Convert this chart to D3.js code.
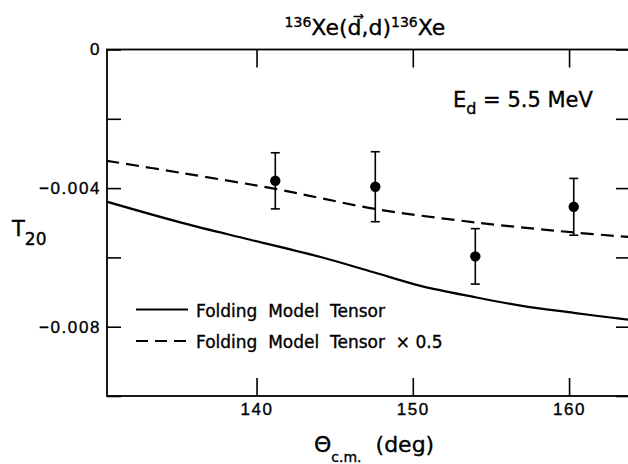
<!DOCTYPE html>
<html>
<head>
<meta charset="utf-8">
<script src="https://cdn.jsdelivr.net/npm/d3@7"></script>
<style>
  body { margin: 0; background: #fff; }
  svg { display: block; font-family: "DejaVu Sans", sans-serif; }
  svg text { fill: #000; stroke: #000; stroke-width: 0.35; }
  .axis path { display: none; }
  .axis line { stroke: #000; stroke-width: 1.6; }
  .axis text { font-size: 17px; letter-spacing: 1.6px; }
</style>
</head>
<body>
<div id="chart"></div>
<script>
// theta c.m. (deg) and T20 values
var solidTheta = [130.4, 135.3, 139.6, 144.1, 147.5, 150.5, 153.9, 156.9, 160.3, 163.8];
var solidT20   = [-0.00439, -0.00501, -0.00549, -0.00599, -0.00643, -0.00682, -0.00714, -0.00739, -0.0076, -0.0078];
var dashTheta  = [130.4, 135.3, 141.3, 144.1, 147.7, 154.0, 160.3, 163.8];
var dashT20    = [-0.00321, -0.00357, -0.00403, -0.00429, -0.00461, -0.00499, -0.00528, -0.00541];
var dataTheta  = [141.2, 147.6, 154.0, 160.3];
var dataT20    = [-0.00379, -0.00396, -0.00597, -0.00454];
var dataErr    = [0.00081, 0.00101, 0.00080, 0.00082];
var xTicks = [140, 150, 160];
var yTicks = [0, -0.002, -0.004, -0.006, -0.008, -0.010];
var yLabelled = [0, -0.004, -0.008];
var legendLabels = ["Folding  Model  Tensor", "Folding  Model  Tensor  \u00d7 0.5"];

(function() {
var width = 628, height = 464;
var mLeft = 107, mRight = 630, mTop = 49.5, mBottom = 396;

var svg = d3.select("#chart").append("svg")
    .attr("width", width)
    .attr("height", height);

var x = d3.scaleLinear().domain([130.43, 163.9]).range([mLeft, mRight]);
var y = d3.scaleLinear().domain([-0.010, 0]).range([mBottom, mTop]);

// frame
svg.append("rect")
   .attr("x", mLeft).attr("y", mTop)
   .attr("width", mRight - mLeft).attr("height", mBottom - mTop)
   .attr("fill", "none").attr("stroke", "#000").attr("stroke-width", 1.8);

// axes, ticks pointing inward
svg.append("g").attr("class", "axis")
   .attr("transform", "translate(0," + mBottom + ")")
   .call(d3.axisBottom(x).tickValues(xTicks).tickSizeInner(-18).tickSizeOuter(0).tickPadding(7)
         .tickFormat(d3.format("d")));
svg.append("g").attr("class", "axis")
   .attr("transform", "translate(0," + mTop + ")")
   .call(d3.axisTop(x).tickValues(xTicks).tickSizeInner(-18).tickSizeOuter(0).tickFormat(""));
svg.append("g").attr("class", "axis")
   .attr("transform", "translate(" + mLeft + ",0)")
   .call(d3.axisLeft(y).tickValues(yTicks).tickSizeInner(-14).tickSizeOuter(0).tickPadding(6)
         .tickFormat(function(d) {
            return yLabelled.indexOf(d) >= 0 ? (d === 0 ? "0" : d3.format(".3f")(d)) : "";
         }));
svg.append("g").attr("class", "axis")
   .attr("transform", "translate(" + mRight + ",0)")
   .call(d3.axisRight(y).tickValues(yTicks).tickSizeInner(-14).tickSizeOuter(0).tickFormat(""));

svg.append("clipPath").attr("id", "clip")
   .append("rect").attr("x", mLeft).attr("y", mTop)
   .attr("width", mRight - mLeft).attr("height", mBottom - mTop);

var line = d3.line()
    .x(function(d) { return x(d[0]); })
    .y(function(d) { return y(d[1]); })
    .curve(d3.curveCatmullRom);

svg.append("path")
   .datum(d3.zip(solidTheta, solidT20))
   .attr("clip-path", "url(#clip)")
   .attr("d", line)
   .attr("fill", "none").attr("stroke", "#000").attr("stroke-width", 2.2);

svg.append("path")
   .datum(d3.zip(dashTheta, dashT20))
   .attr("clip-path", "url(#clip)")
   .attr("d", line)
   .attr("fill", "none").attr("stroke", "#000").attr("stroke-width", 2.2)
   .attr("stroke-dasharray", "13,7");

// data points with error bars
var pts = d3.zip(dataTheta, dataT20, dataErr);
var g = svg.selectAll("g.pt").data(pts).enter().append("g").attr("class", "pt");
g.append("line")
  .attr("x1", function(d) { return x(d[0]); })
  .attr("x2", function(d) { return x(d[0]); })
  .attr("y1", function(d) { return y(d[1] + d[2]); })
  .attr("y2", function(d) { return y(d[1] - d[2]); })
  .attr("stroke", "#000").attr("stroke-width", 1.6);
[1, -1].forEach(function(s) {
  g.append("line")
    .attr("x1", function(d) { return x(d[0]) - 4.5; })
    .attr("x2", function(d) { return x(d[0]) + 4.5; })
    .attr("y1", function(d) { return y(d[1] + s * d[2]); })
    .attr("y2", function(d) { return y(d[1] + s * d[2]); })
    .attr("stroke", "#000").attr("stroke-width", 1.6);
});
g.append("circle")
  .attr("cx", function(d) { return x(d[0]); })
  .attr("cy", function(d) { return y(d[1]); })
  .attr("r", 5.2)
  .attr("fill", "#000");

// legend
var leg = svg.selectAll("g.leg").data(legendLabels).enter().append("g")
    .attr("transform", function(d, i) { return "translate(136," + (309.5 + i * 31.5) + ")"; });
leg.append("line")
   .attr("x1", 0).attr("x2", 52).attr("y1", 0).attr("y2", 0)
   .attr("stroke", "#000").attr("stroke-width", 2)
   .attr("stroke-dasharray", function(d, i) { return i ? "12,7" : null; });
leg.append("text")
   .attr("x", 60).attr("y", 7)
   .style("font-size", "17px")
   .style("white-space", "pre")
   .text(function(d) { return d; });

// title
var title = svg.append("text")
   .attr("x", 365).attr("y", 35)
   .attr("text-anchor", "middle")
   .style("font-size", "22px");
title.append("tspan").attr("dy", -8).style("font-size", "14px").text("136");
title.append("tspan").attr("dy", 8).text("Xe(d\u20D7,d)");
title.append("tspan").attr("dy", -8).style("font-size", "14px").text("136");
title.append("tspan").attr("dy", 8).text("Xe");

// energy label
var en = svg.append("text").attr("x", 453).attr("y", 107).style("font-size", "21px");
en.append("tspan").text("E");
en.append("tspan").attr("dy", 7).style("font-size", "16px").text("d");
en.append("tspan").attr("dy", -7).style("white-space", "pre").text(" = 5.5 MeV");

// y title
var yt = svg.append("text").attr("x", 12).attr("y", 236).style("font-size", "21px");
yt.append("tspan").text("T");
yt.append("tspan").attr("dy", 9).style("font-size", "17px").text("20");

// x title
var xt = svg.append("text").attr("x", 314).attr("y", 452).style("font-size", "22px");
xt.append("tspan").text("\u0398");
xt.append("tspan").attr("dy", 10).style("font-size", "14px").text("c.m.");
xt.append("tspan").attr("dy", -10).style("white-space", "pre").text("  (deg)");
})();
</script>
</body>
</html>
